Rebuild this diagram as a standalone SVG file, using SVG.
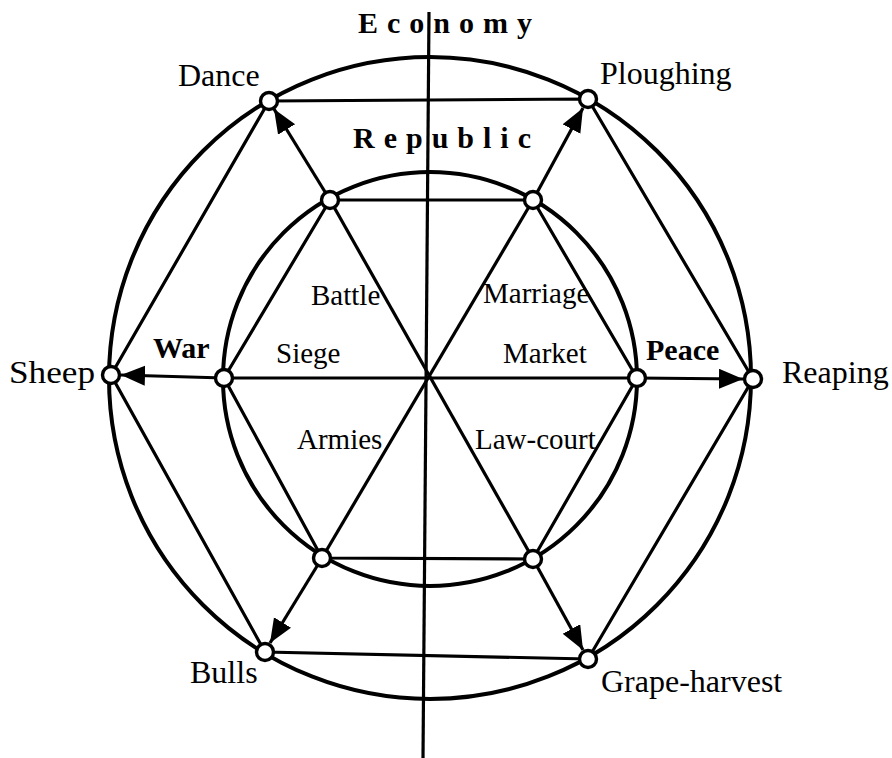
<svg xmlns="http://www.w3.org/2000/svg" width="892" height="758" viewBox="0 0 892 758">
<style>
.c{fill:none;stroke:#000;stroke-width:4}
.l{fill:none;stroke:#000;stroke-width:3.2}
.n{fill:#fff;stroke:#000;stroke-width:3.4}
text{font-family:"Liberation Serif","Times New Roman",serif;font-size:29px;fill:#000}
.o{font-size:32px}
.b{font-weight:bold;font-size:30px}
.s{font-weight:bold;font-size:30px;letter-spacing:9px}
</style>
<defs>
<marker id="ah" markerUnits="userSpaceOnUse" markerWidth="26" markerHeight="22" refX="24" refY="10" orient="auto" viewBox="0 0 26 22">
<path d="M0,0 L24,10 L0,20 z" fill="#000"/>
</marker>
</defs>
<rect width="892" height="758" fill="#fff"/>
<g id="connectors">
<circle class="c" cx="430" cy="378" r="321"/>
<circle class="c" cx="430" cy="379" r="207"/>
<line class="l" x1="429" y1="12" x2="423" y2="758"/>
<polygon class="l" points="269,101 588,99 753,379 588,659 265,652 111,375"/>
<polygon class="l" points="330,200 533,200 637,378 533,559 322,558 224,378"/>
<line class="l" x1="330" y1="200" x2="533" y2="559"/>
<line class="l" x1="533" y1="200" x2="322" y2="558"/>
<line class="l" x1="224" y1="378" x2="637" y2="378"/>
<line class="l" x1="330" y1="200" x2="274" y2="109" marker-end="url(#ah)"/>
<line class="l" x1="533" y1="200" x2="583" y2="108" marker-end="url(#ah)"/>
<line class="l" x1="322" y1="558" x2="270" y2="643" marker-end="url(#ah)"/>
<line class="l" x1="533" y1="559" x2="583" y2="650" marker-end="url(#ah)"/>
<line class="l" x1="224" y1="378" x2="121" y2="375" marker-end="url(#ah)"/>
<line class="l" x1="637" y1="378" x2="743" y2="379" marker-end="url(#ah)"/>
</g>
<g id="axis-labels">
<text class="s" x="358" y="33">Economy</text>
<text class="s" x="353" y="148">Republic</text>
<text class="b" x="153" y="358">War</text>
<text class="b" x="646" y="360">Peace</text>
</g>
<g id="inner-labels">
<text x="311" y="305">Battle</text>
<text x="483" y="303">Marriage</text>
<text x="276" y="363">Siege</text>
<text x="503" y="363">Market</text>
<text x="297" y="449">Armies</text>
<text x="475" y="449">Law-court</text>
</g>
<g id="node-dance"><circle class="n" cx="269" cy="101" r="8.5"/><text class="o" x="178" y="86">Dance</text></g>
<g id="node-ploughing"><circle class="n" cx="588" cy="99" r="8.5"/><text class="o" x="600" y="84">Ploughing</text></g>
<g id="node-reaping"><circle class="n" cx="753" cy="379" r="8.5"/><text class="o" x="782" y="383">Reaping</text></g>
<g id="node-grape-harvest"><circle class="n" cx="588" cy="659" r="8.5"/><text class="o" x="601" y="692">Grape-harvest</text></g>
<g id="node-bulls"><circle class="n" cx="265" cy="652" r="8.5"/><text class="o" x="190" y="683">Bulls</text></g>
<g id="node-sheep"><circle class="n" cx="111" cy="375" r="8.5"/><text class="o" x="9" y="383" textLength="86" lengthAdjust="spacingAndGlyphs">Sheep</text></g>
<g id="node-republic-tl"><circle class="n" cx="330" cy="200" r="8.5"/></g>
<g id="node-republic-tr"><circle class="n" cx="533" cy="200" r="8.5"/></g>
<g id="node-peace"><circle class="n" cx="637" cy="378" r="8.5"/></g>
<g id="node-republic-br"><circle class="n" cx="533" cy="559" r="8.5"/></g>
<g id="node-republic-bl"><circle class="n" cx="322" cy="558" r="8.5"/></g>
<g id="node-war"><circle class="n" cx="224" cy="378" r="8.5"/></g>
</svg>
